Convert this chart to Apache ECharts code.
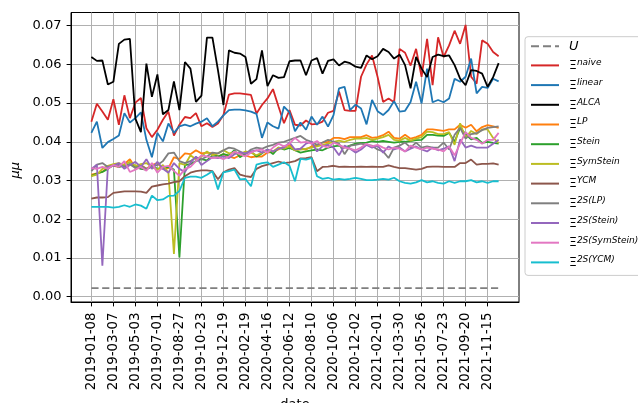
<!DOCTYPE html>
<html><head><meta charset="utf-8">
<script src="https://cdn.jsdelivr.net/npm/echarts@6/dist/echarts.min.js"></script>
<style>html,body{margin:0;padding:0;background:#fff}#c{width:638px;height:403px}</style>
</head><body><div id="c"></div>
<script>
const dates = [
'2019-01-08','2019-01-22','2019-02-05','2019-02-20','2019-03-07','2019-03-21','2019-04-04','2019-04-19',
'2019-05-03','2019-05-17','2019-06-01','2019-06-16','2019-07-01','2019-07-15','2019-07-29','2019-08-13',
'2019-08-27','2019-09-10','2019-09-25','2019-10-09','2019-10-23','2019-11-06','2019-11-21','2019-12-05',
'2019-12-19','2020-01-03','2020-01-19','2020-02-04','2020-02-19','2020-03-04','2020-03-18','2020-04-01',
'2020-04-16','2020-04-30','2020-05-15','2020-05-29','2020-06-12','2020-06-26','2020-07-11','2020-07-26',
'2020-08-10','2020-08-24','2020-09-08','2020-09-22','2020-10-06','2020-10-20','2020-11-04','2020-11-18',
'2020-12-02','2020-12-17','2021-01-01','2021-01-16','2021-02-01','2021-02-15','2021-03-02','2021-03-16',
'2021-03-30','2021-04-13','2021-04-28','2021-05-12','2021-05-26','2021-06-09','2021-06-24','2021-07-09',
'2021-07-23','2021-08-06','2021-08-21','2021-09-05','2021-09-20','2021-10-04','2021-10-19','2021-11-02',
'2021-11-15','2021-11-29','2021-12-13'];
const xTickIndex = [0,4,8,12,16,20,24,28,32,36,40,44,48,52,56,60,64,68,72];
const yTicks = [0,0.01,0.02,0.03,0.04,0.05,0.06,0.07];
const U_VALUE = 0.0022;

const naive = [0.0452,0.0498,0.0478,0.0457,0.0510,0.0444,0.0520,0.0461,0.0501,0.0513,
0.0435,0.0412,0.0431,0.0457,0.0478,0.0416,0.0444,0.0464,0.0461,0.0474,
0.0440,0.0448,0.0438,0.0447,0.0469,0.0522,0.0525,0.0525,0.0523,0.0521,
0.0473,0.0495,0.0512,0.0536,0.0491,0.0448,0.0482,0.0444,0.0442,0.0455,
0.0445,0.0446,0.0452,0.0475,0.0480,0.0530,0.0482,0.0480,0.0480,0.0568,
0.0600,0.0623,0.0568,0.0503,0.0512,0.0502,0.0640,0.0630,0.0597,0.0640,
0.0568,0.0666,0.0546,0.0670,0.0619,0.0649,0.0687,0.0653,0.0702,0.0568,
0.0550,0.0662,0.0653,0.0632,0.0621];
const linear = [0.0423,0.0452,0.0384,0.0399,0.0407,0.0416,0.0474,0.0450,0.0461,0.0476,
0.0405,0.0360,0.0423,0.0401,0.0447,0.0423,0.0440,0.0444,0.0440,0.0447,
0.0452,0.0461,0.0440,0.0452,0.0468,0.0482,0.0483,0.0483,0.0481,0.0478,
0.0472,0.0410,0.0450,0.0440,0.0434,0.0491,0.0476,0.0427,0.0450,0.0431,
0.0465,0.0444,0.0465,0.0439,0.0469,0.0538,0.0542,0.0482,0.0496,0.0486,
0.0445,0.0508,0.0479,0.0469,0.0482,0.0505,0.0478,0.0480,0.0503,0.0555,
0.0499,0.0589,0.0502,0.0508,0.0502,0.0512,0.0563,0.0555,0.0568,0.0615,
0.0525,0.0542,0.0539,0.0563,0.0556];
const alca = [0.0619,0.0609,0.0610,0.0548,0.0555,0.0653,0.0664,0.0666,0.0460,0.0425,
0.0602,0.0516,0.0574,0.0471,0.0482,0.0556,0.0482,0.0606,0.0589,0.0503,
0.0519,0.0669,0.0669,0.0585,0.0495,0.0636,0.0630,0.0628,0.0619,0.0550,
0.0562,0.0636,0.0544,0.0572,0.0565,0.0567,0.0608,0.0610,0.0610,0.0572,
0.0610,0.0616,0.0576,0.0609,0.0613,0.0597,0.0607,0.0603,0.0594,0.0591,
0.0623,0.0613,0.0621,0.0640,0.0632,0.0615,0.0625,0.0598,0.0538,0.0619,
0.0589,0.0567,0.0619,0.0625,0.0621,0.0623,0.0598,0.0563,0.0546,0.0585,
0.0583,0.0576,0.0542,0.0567,0.0603];
const lp = [0.0315,0.0318,0.0322,0.0335,0.0338,0.0335,0.0342,0.0355,0.0332,0.0340,
0.0330,0.0340,0.0345,0.0330,0.0332,0.0360,0.0355,0.0370,0.0368,0.0378,
0.0370,0.0372,0.0370,0.0362,0.0368,0.0362,0.0358,0.0365,0.0365,0.0360,
0.0362,0.0362,0.0372,0.0374,0.0380,0.0388,0.0392,0.0378,0.0382,0.0380,
0.0388,0.0392,0.0398,0.0400,0.0410,0.0410,0.0407,0.0412,0.0412,0.0412,
0.0417,0.0410,0.0412,0.0417,0.0426,0.0410,0.0408,0.0418,0.0408,0.0412,
0.0418,0.0432,0.0432,0.0430,0.0428,0.0432,0.0432,0.0444,0.0436,0.0444,
0.0427,0.0438,0.0443,0.0440,0.0436];
const stein = [0.0312,0.0318,0.0322,0.0330,0.0340,0.0335,0.0338,0.0342,0.0335,0.0330,
0.0328,0.0338,0.0330,0.0332,0.0335,0.0328,0.0101,0.0340,0.0342,0.0350,
0.0355,0.0352,0.0365,0.0362,0.0368,0.0365,0.0378,0.0360,0.0370,0.0375,
0.0362,0.0370,0.0380,0.0368,0.0385,0.0380,0.0384,0.0378,0.0372,0.0375,
0.0378,0.0380,0.0378,0.0385,0.0388,0.0390,0.0385,0.0390,0.0395,0.0397,
0.0398,0.0402,0.0400,0.0402,0.0400,0.0398,0.0400,0.0400,0.0402,0.0404,
0.0405,0.0418,0.0418,0.0416,0.0415,0.0423,0.0400,0.0436,0.0420,0.0406,
0.0410,0.0397,0.0400,0.0397,0.0395];
const symStein = [0.0311,0.0315,0.0330,0.0338,0.0342,0.0345,0.0340,0.0348,0.0338,0.0342,
0.0345,0.0335,0.0328,0.0340,0.0320,0.0110,0.0345,0.0340,0.0365,0.0355,
0.0362,0.0375,0.0365,0.0370,0.0378,0.0370,0.0372,0.0368,0.0375,0.0372,
0.0365,0.0372,0.0378,0.0375,0.0385,0.0382,0.0388,0.0378,0.0380,0.0382,
0.0385,0.0388,0.0392,0.0395,0.0400,0.0403,0.0400,0.0405,0.0408,0.0408,
0.0410,0.0405,0.0408,0.0412,0.0418,0.0405,0.0403,0.0410,0.0403,0.0408,
0.0412,0.0426,0.0425,0.0420,0.0420,0.0425,0.0392,0.0448,0.0410,0.0428,
0.0420,0.0432,0.0432,0.0410,0.0397];
const ycm = [0.0253,0.0256,0.0256,0.0257,0.0268,0.0270,0.0272,0.0272,0.0272,0.0271,
0.0268,0.0284,0.0287,0.0290,0.0292,0.0296,0.0298,0.0311,0.0320,0.0324,
0.0326,0.0326,0.0324,0.0303,0.0321,0.0328,0.0332,0.0315,0.0311,0.0309,
0.0330,0.0337,0.0341,0.0345,0.0349,0.0345,0.0347,0.0350,0.0357,0.0358,
0.0360,0.0324,0.0335,0.0336,0.0338,0.0335,0.0336,0.0335,0.0335,0.0336,
0.0335,0.0336,0.0335,0.0335,0.0339,0.0335,0.0332,0.0332,0.0330,0.0328,
0.0330,0.0335,0.0336,0.0336,0.0335,0.0335,0.0335,0.0345,0.0345,0.0354,
0.0341,0.0343,0.0343,0.0344,0.0341];
const s2LP = [0.0324,0.0341,0.0345,0.0335,0.0338,0.0340,0.0335,0.0342,0.0332,0.0338,
0.0330,0.0335,0.0340,0.0350,0.0370,0.0372,0.0350,0.0345,0.0350,0.0360,
0.0355,0.0362,0.0372,0.0370,0.0378,0.0385,0.0382,0.0375,0.0368,0.0380,
0.0385,0.0382,0.0388,0.0392,0.0398,0.0400,0.0405,0.0410,0.0415,0.0405,
0.0400,0.0392,0.0398,0.0405,0.0400,0.0395,0.0368,0.0390,0.0392,0.0395,
0.0392,0.0390,0.0380,0.0375,0.0358,0.0385,0.0390,0.0398,0.0385,0.0398,
0.0385,0.0388,0.0385,0.0385,0.0398,0.0380,0.0418,0.0436,0.0408,0.0420,
0.0422,0.0430,0.0436,0.0438,0.0440];
const s2Stein = [0.0330,0.0341,0.0080,0.0335,0.0338,0.0345,0.0330,0.0340,0.0348,0.0335,
0.0355,0.0330,0.0348,0.0330,0.0320,0.0345,0.0330,0.0322,0.0345,0.0362,
0.0340,0.0350,0.0360,0.0358,0.0362,0.0358,0.0368,0.0372,0.0370,0.0375,
0.0378,0.0372,0.0380,0.0375,0.0382,0.0385,0.0398,0.0380,0.0382,0.0395,
0.0400,0.0375,0.0388,0.0392,0.0385,0.0365,0.0390,0.0382,0.0372,0.0380,
0.0392,0.0385,0.0390,0.0372,0.0388,0.0380,0.0385,0.0375,0.0382,0.0388,
0.0380,0.0375,0.0385,0.0378,0.0382,0.0388,0.0350,0.0406,0.0385,0.0390,
0.0385,0.0385,0.0385,0.0395,0.0405];
const s2SymStein = [0.0332,0.0330,0.0335,0.0330,0.0340,0.0335,0.0350,0.0322,0.0328,0.0335,
0.0325,0.0345,0.0320,0.0335,0.0338,0.0325,0.0312,0.0330,0.0335,0.0350,
0.0365,0.0362,0.0358,0.0360,0.0355,0.0362,0.0375,0.0368,0.0362,0.0372,
0.0378,0.0380,0.0372,0.0385,0.0395,0.0388,0.0395,0.0410,0.0398,0.0400,
0.0395,0.0402,0.0390,0.0385,0.0398,0.0392,0.0385,0.0382,0.0378,0.0385,
0.0395,0.0388,0.0392,0.0385,0.0380,0.0385,0.0382,0.0375,0.0390,0.0385,
0.0380,0.0385,0.0382,0.0380,0.0375,0.0388,0.0365,0.0395,0.0425,0.0410,
0.0405,0.0395,0.0405,0.0405,0.0423];
const s2YCM = [0.0232,0.0232,0.0232,0.0232,0.0230,0.0232,0.0236,0.0232,0.0238,0.0235,
0.0227,0.0261,0.0249,0.0251,0.0260,0.0261,0.0273,0.0307,0.0310,0.0310,
0.0307,0.0315,0.0324,0.0277,0.0321,0.0324,0.0328,0.0303,0.0304,0.0285,
0.0341,0.0345,0.0347,0.0335,0.0341,0.0347,0.0338,0.0298,0.0356,0.0354,
0.0358,0.0311,0.0304,0.0307,0.0302,0.0304,0.0302,0.0304,0.0307,0.0304,
0.0301,0.0301,0.0302,0.0304,0.0302,0.0307,0.0298,0.0294,0.0292,0.0295,
0.0301,0.0295,0.0298,0.0294,0.0292,0.0298,0.0294,0.0298,0.0298,0.0301,
0.0295,0.0298,0.0294,0.0298,0.0298];

const seriesDefs = [
  ['U', dates.map(() => U_VALUE), '#7f7f7f', 'dashed'],
  ['naive', naive, '#d62728'],
  ['linear', linear, '#1f77b4'],
  ['ALCA', alca, '#000000'],
  ['LP', lp, '#ff7f0e'],
  ['Stein', stein, '#2ca02c'],
  ['SymStein', symStein, '#bcbd22'],
  ['YCM', ycm, '#8c564b'],
  ['2S(LP)', s2LP, '#7f7f7f'],
  ['2S(Stein)', s2Stein, '#9467bd'],
  ['2S(SymStein)', s2SymStein, '#e377c2'],
  ['2S(YCM)', s2YCM, '#17becf']
];
const FONT = 'DejaVu Sans';
const chart = echarts.init(document.getElementById('c'), null, {renderer: 'canvas'});
chart.setOption({
  animation: false,
  backgroundColor: '#fff',
  grid: {left: 71, right: 119, top: 12.5, bottom: 101, outerBoundsMode: 'none', containLabel: false,
    show: true, borderColor: '#000', borderWidth: 1, backgroundColor: 'transparent'},
  xAxis: {
    type: 'value', min: -3.7, max: 77.7,
    name: 'date', nameLocation: 'middle', nameGap: 92,
    nameTextStyle: {fontFamily: FONT, fontSize: 13, color: '#000'},
    axisLine: {show: true, onZero: false, lineStyle: {color: '#000', width: 1}},
    axisTick: {show: true, length: 4.4, lineStyle: {color: '#000'}, customValues: xTickIndex},
    axisLabel: {rotate: 90, margin: 10.5, fontFamily: FONT, fontSize: 13.4, color: '#000',
      customValues: xTickIndex, formatter: v => dates[Math.round(v)] || ''},
    splitLine: {show: true, lineStyle: {color: '#b0b0b0', width: 1}}
  },
  yAxis: {
    type: 'value', min: -0.0014, max: 0.0734,
    name: 'μμ', nameLocation: 'middle', nameGap: 35, nameRotate: 90,
    nameTextStyle: {fontFamily: FONT, fontSize: 13, fontStyle: 'italic', color: '#000', padding: [0, 26, 0, 0]},
    axisLine: {show: true, onZero: false, lineStyle: {color: '#000', width: 1}},
    axisTick: {show: true, length: 4.4, lineStyle: {color: '#000'}, customValues: yTicks},
    axisLabel: {margin: 9.5, fontFamily: FONT, fontSize: 13, color: '#000',
      customValues: yTicks, formatter: v => v.toFixed(2)},
    splitLine: {show: true, lineStyle: {color: '#b0b0b0', width: 1}}
  },
  legend: {
    orient: 'vertical', left: 525, top: 36.7,
    padding: [3, 20, 6, 5], itemGap: 5.7, itemWidth: 28, itemHeight: 14,
    backgroundColor: 'rgba(255,255,255,0.8)', borderColor: '#cccccc', borderWidth: 1, borderRadius: 3,
    itemStyle: {color: 'transparent', borderColor: 'transparent', borderWidth: 0, opacity: 0},
    data: seriesDefs.map(d => d[0]),
    formatter: name => name === 'U' ? '{u|U}' : '{xi|Ξ}{sup|' + name + '}',
    textStyle: {
      fontFamily: FONT, color: '#000',
      rich: {
        u: {fontFamily: FONT, fontSize: 13, fontStyle: 'italic', lineHeight: 14, padding: [0,0,0,5]},
        xi: {fontFamily: FONT, fontSize: 12.5, lineHeight: 14, verticalAlign: 'bottom', padding: [0,0,0,5]},
        sup: {fontFamily: FONT, fontSize: 9, fontStyle: 'italic', lineHeight: 6, verticalAlign: 'top'}
      }
    }
  },
  series: seriesDefs.map(d => ({
    name: d[0], type: 'line', symbol: 'none', showSymbol: false,
    data: d[1].map((v, i) => [i, v]),
    lineStyle: {color: d[2], width: 1.8, type: d[3] || 'solid'},
    itemStyle: {color: d[2]},
    emphasis: {disabled: true}
  }))
});
</script></body></html>
